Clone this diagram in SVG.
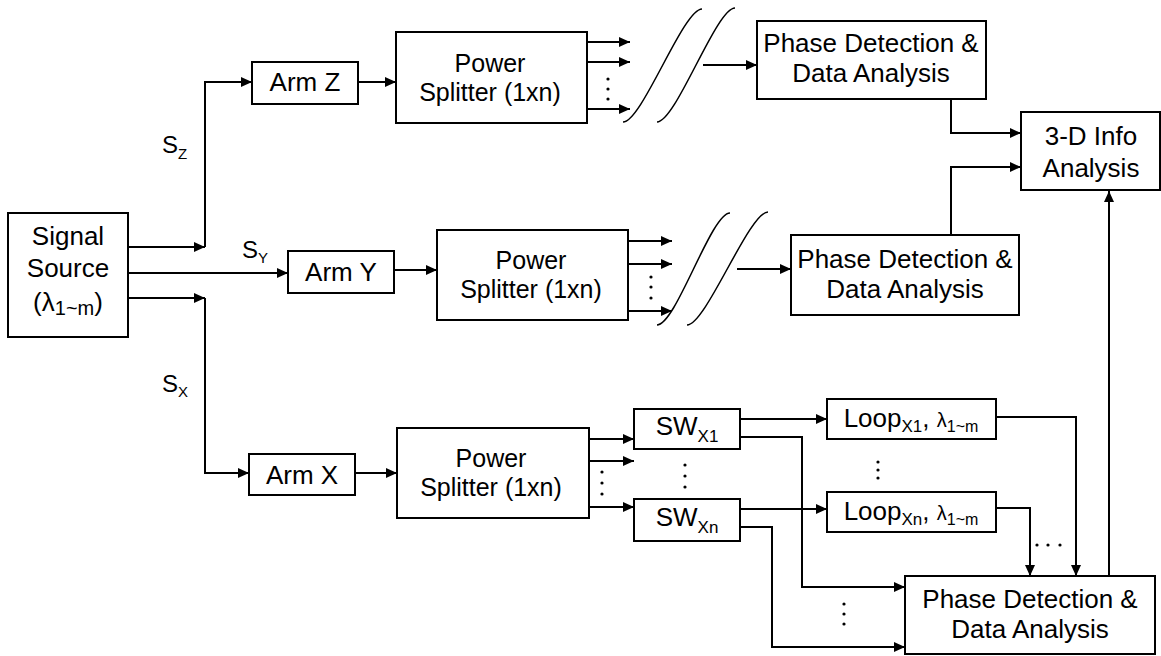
<svg xmlns="http://www.w3.org/2000/svg" width="1161" height="656" viewBox="0 0 1161 656">
<style>
.b{fill:#fff;stroke:#000;stroke-width:2}
.t{font-family:"Liberation Sans",Arial,sans-serif;font-size:26px;fill:#000;text-anchor:middle}
.p{font-size:25px}
.l{font-family:"Liberation Sans",Arial,sans-serif;font-size:24px;fill:#000}
.c{fill:none;stroke:#000;stroke-width:2}
.a{marker-end:url(#ah)}
.w{fill:none;stroke:#000;stroke-width:1.5}
.d{fill:#000}
</style>
<defs>
<marker id="ah" markerWidth="11" markerHeight="10" refX="11" refY="5" orient="auto" markerUnits="userSpaceOnUse"><path d="M0,0 L11,5 L0,10 z" fill="#000"/></marker>
</defs>
<rect width="1161" height="656" fill="#fff"/>
<g id="connectors">
<polyline class="c a" points="128,247 205,247"/>
<polyline class="c a" points="205,247 205,82 252,82"/>
<polyline class="c a" points="128,273 288,273"/>
<polyline class="c a" points="128,298 205,298"/>
<polyline class="c a" points="205,298 205,473 249,473"/>
<polyline class="c a" points="358,82 396,82"/>
<polyline class="c a" points="394,270 437,270"/>
<polyline class="c a" points="355,473 397,473"/>
<polyline class="c a" points="587,42 630,42"/>
<polyline class="c a" points="587,62 630,62"/>
<polyline class="c a" points="587,109 630,109"/>
<polyline class="c a" points="628,241 672,241"/>
<polyline class="c a" points="628,264 672,264"/>
<polyline class="c a" points="628,311 672,311"/>
<polyline class="c a" points="589,439 634,439"/>
<polyline class="c a" points="589,461 634,461"/>
<polyline class="c a" points="589,507 634,507"/>
<polyline class="c a" points="703,65 757,65"/>
<polyline class="c a" points="737,269 791,269"/>
<polyline class="c a" points="951,99 951,133 1021,133"/>
<polyline class="c a" points="951,235 951,167 1021,167"/>
<polyline class="c a" points="1109,576 1109,191"/>
<polyline class="c a" points="740,419 827,419"/>
<polyline class="c a" points="740,437 802,437 802,587 905,587"/>
<polyline class="c a" points="740,509 827,509"/>
<polyline class="c a" points="740,527 772,527 772,647 905,647"/>
<polyline class="c a" points="996,417 1076,417 1076,576"/>
<polyline class="c a" points="996,508 1030,508 1030,576"/>
<path class="w" d="M623,122 C642,122 683,9 702,9"/>
<path class="w" d="M657,122 C676,122 716,8 735,8"/>
<path class="w" d="M657,325 C676,325 711,213 730,213"/>
<path class="w" d="M687,325 C706,325 749,212 768,212"/>
<circle class="d" cx="608" cy="79" r="1.6"/><circle class="d" cx="608" cy="89" r="1.6"/><circle class="d" cx="608" cy="99" r="1.6"/>
<circle class="d" cx="651" cy="277" r="1.6"/><circle class="d" cx="651" cy="287" r="1.6"/><circle class="d" cx="651" cy="298" r="1.6"/>
<circle class="d" cx="602" cy="472" r="1.6"/><circle class="d" cx="602" cy="483" r="1.6"/><circle class="d" cx="602" cy="494" r="1.6"/>
<circle class="d" cx="685" cy="465" r="1.6"/><circle class="d" cx="685" cy="476" r="1.6"/><circle class="d" cx="685" cy="487" r="1.6"/>
<circle class="d" cx="878" cy="462" r="1.6"/><circle class="d" cx="878" cy="470" r="1.6"/><circle class="d" cx="878" cy="478" r="1.6"/>
<circle class="d" cx="844" cy="604" r="1.6"/><circle class="d" cx="844" cy="614" r="1.6"/><circle class="d" cx="844" cy="624" r="1.6"/>
<circle class="d" cx="1037" cy="545" r="1.6"/><circle class="d" cx="1048" cy="545" r="1.6"/><circle class="d" cx="1060" cy="545" r="1.6"/>
<text class="l" x="162" y="153">S<tspan font-size="15" dy="6">Z</tspan></text>
<text class="l" x="242" y="258">S<tspan font-size="15" dy="5">Y</tspan></text>
<text class="l" x="162" y="392">S<tspan font-size="15" dy="5">X</tspan></text>
</g>
<g id="src"><rect class="b" x="8" y="213" width="120" height="124"/>
<text class="t" x="68" y="245">Signal</text><text class="t" x="68" y="277">Source</text>
<text class="t" x="68" y="311">(λ<tspan font-size="20" dy="4">1~m</tspan><tspan dy="-4">)</tspan></text></g>
<g id="armZ"><rect class="b" x="252" y="62" width="106" height="42"/><text class="t" x="305" y="91">Arm Z</text></g>
<g id="armY"><rect class="b" x="288" y="251" width="106" height="42"/><text class="t" x="341" y="281">Arm Y</text></g>
<g id="armX"><rect class="b" x="249" y="454" width="106" height="41"/><text class="t" x="302" y="484">Arm X</text></g>
<g id="splitZ"><rect class="b" x="396" y="32" width="191" height="91"/><text class="t p" x="490" y="72">Power</text><text class="t p" x="490" y="101">Splitter (1xn)</text></g>
<g id="splitY"><rect class="b" x="437" y="230" width="191" height="90"/><text class="t p" x="531" y="269">Power</text><text class="t p" x="531" y="298">Splitter (1xn)</text></g>
<g id="splitX"><rect class="b" x="397" y="428" width="192" height="90"/><text class="t p" x="491" y="467">Power</text><text class="t p" x="491" y="496">Splitter (1xn)</text></g>
<g id="phaseZ"><rect class="b" x="757" y="21" width="229" height="78"/><text class="t" x="871" y="52">Phase Detection &amp;</text><text class="t" x="871" y="82">Data Analysis</text></g>
<g id="phaseY"><rect class="b" x="791" y="235" width="228" height="80"/><text class="t" x="905" y="268">Phase Detection &amp;</text><text class="t" x="905" y="298">Data Analysis</text></g>
<g id="info"><rect class="b" x="1021" y="112" width="139" height="78"/><text class="t" x="1091" y="145">3-D Info</text><text class="t" x="1091" y="177">Analysis</text></g>
<g id="swX1"><rect class="b" x="634" y="409" width="106" height="40"/><text class="t" x="687" y="435">SW<tspan font-size="17" dy="7">X1</tspan></text></g>
<g id="swXn"><rect class="b" x="634" y="499" width="106" height="42"/><text class="t" x="687" y="526">SW<tspan font-size="17" dy="7">Xn</tspan></text></g>
<g id="loopX1"><rect class="b" x="827" y="399" width="169" height="40"/><text class="t" x="911" y="427">Loop<tspan font-size="17" dy="5">X1</tspan><tspan dy="-5">, </tspan><tspan font-size="20">λ</tspan><tspan font-size="16" dy="5">1~m</tspan></text></g>
<g id="loopXn"><rect class="b" x="827" y="492" width="169" height="40"/><text class="t" x="911" y="520">Loop<tspan font-size="17" dy="5">Xn</tspan><tspan dy="-5">, </tspan><tspan font-size="20">λ</tspan><tspan font-size="16" dy="5">1~m</tspan></text></g>
<g id="phaseX"><rect class="b" x="905" y="576" width="250" height="78"/><text class="t" x="1030" y="608">Phase Detection &amp;</text><text class="t" x="1030" y="638">Data Analysis</text></g>
</svg>
